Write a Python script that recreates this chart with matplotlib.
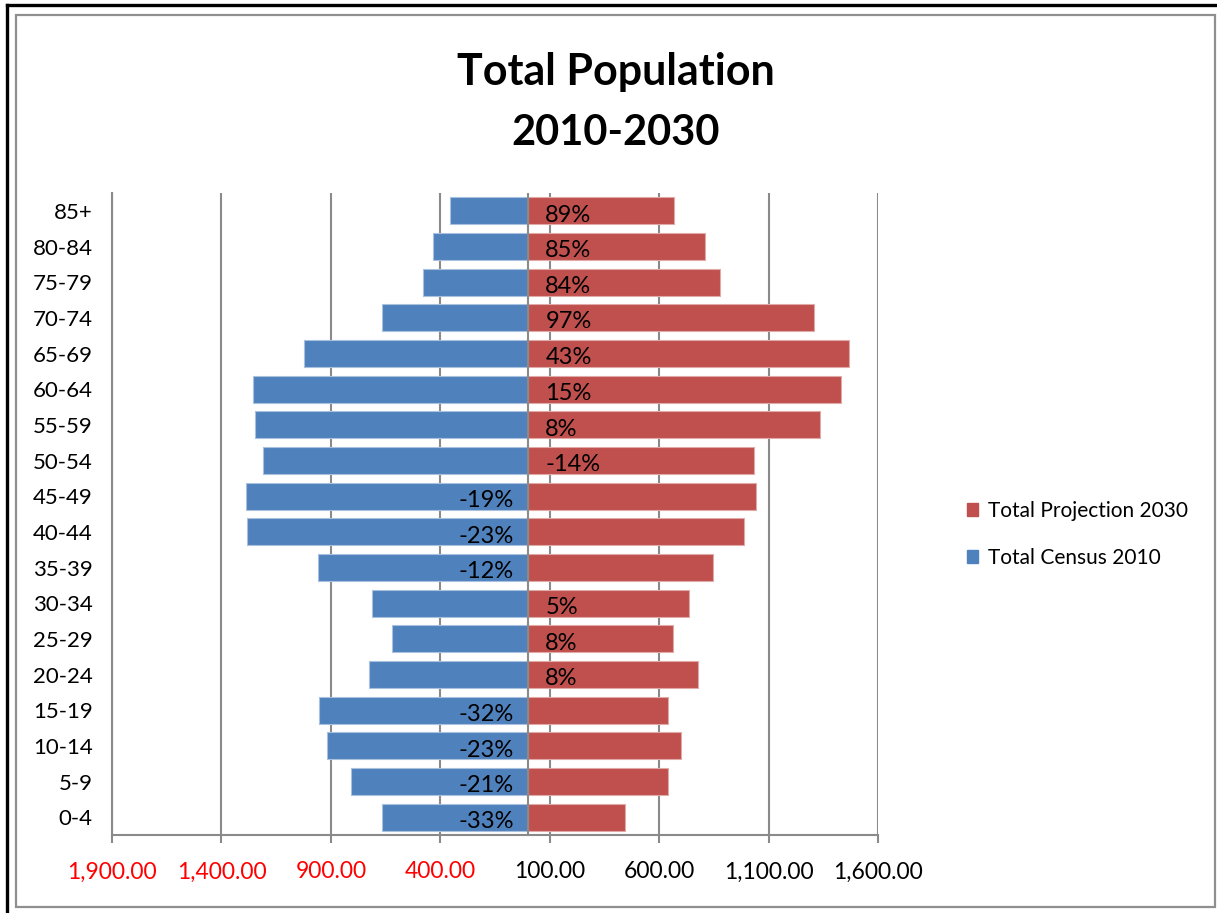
"""Population pyramid: Census 2010 vs Projection 2030 by age group."""
import matplotlib
matplotlib.use('Agg')
import matplotlib.pyplot as plt
from matplotlib.patches import Patch, Rectangle
from matplotlib.lines import Line2D
from matplotlib.ticker import FixedLocator, FixedFormatter

plt.rcParams['font.family'] = ['Lato', 'DejaVu Sans']

# age groups, youngest first (bottom of the pyramid)
AGE_GROUPS = ['0-4', '5-9', '10-14', '15-19', '20-24', '25-29', '30-34',
              '35-39', '40-44', '45-49', '50-54', '55-59', '60-64',
              '65-69', '70-74', '75-79', '80-84', '85+']
CENSUS_2010 = [665, 806, 916, 952, 724, 619, 710, 960, 1281, 1290, 1210,
               1245, 1254, 1021, 665, 477, 432, 354]
PROJECTION_2030 = [442, 639, 701, 639, 779, 665, 738, 844, 988, 1041, 1032,
                   1336, 1432, 1469, 1309, 879, 811, 666]
CHANGE_LABELS = ['-33%', '-21%', '-23%', '-32%', '8%', '8%', '5%', '-12%',
                 '-23%', '-19%', '-14%', '8%', '15%', '43%', '97%', '84%',
                 '85%', '89%']
# which bar the change label sits on: 'L' = census side, 'R' = projection side
LABEL_SIDE = ['L', 'L', 'L', 'L', 'R', 'R', 'R', 'L', 'L', 'L', 'R', 'R',
              'R', 'R', 'R', 'R', 'R', 'R']
XTICKS = [-1900, -1400, -900, -400, 100, 600, 1100, 1600]

BLUE = '#4F81BD'
RED = '#C0504D'
GRID = '#8a8a8a'

W, H = 1217, 913
fig = plt.figure(figsize=(W / 100, H / 100), dpi=100)
ax = fig.add_axes([112 / W, 1 - 835 / H, (878 - 112) / W, (835 - 193) / H])

y = list(range(len(AGE_GROUPS)))
ax.barh(y, [-v for v in CENSUS_2010], height=0.76, color=BLUE,
        edgecolor='#a9c1de', linewidth=0.8, zorder=3)
ax.barh(y, PROJECTION_2030, height=0.76, color=RED,
        edgecolor='#e0aaa8', linewidth=0.8, zorder=3)

for yi, lab, side in zip(y, CHANGE_LABELS, LABEL_SIDE):
    if side == 'R':
        ax.annotate(lab, (0, yi), xytext=(12.6, -3), textcoords='offset points',
                    ha='left', va='center', fontsize=17, zorder=5)
    else:
        ax.annotate(lab, (0, yi), xytext=(-10, -3), textcoords='offset points',
                    ha='right', va='center', fontsize=17, zorder=5)

ax.axvline(0, color=GRID, lw=1.5, zorder=4)

ax.set_xlim(-1900, 1600)
ax.set_ylim(-0.5, len(AGE_GROUPS) - 0.5)
ax.xaxis.set_major_locator(FixedLocator(XTICKS))
ax.xaxis.set_major_formatter(FixedFormatter([f"{abs(v):,.2f}" for v in XTICKS]))
for t, v in zip(ax.get_xticklabels(), XTICKS):
    t.set_color('#ff0000' if v < 0 else 'black')
ax.tick_params(axis='x', length=6, width=1.5, color=GRID, labelsize=16.5, pad=13)
ax.set_yticks(y)
ax.set_yticklabels(AGE_GROUPS)
ax.tick_params(axis='y', length=0, labelsize=16, pad=14)
ax.grid(True, axis='x', color=GRID, lw=1.5, zorder=0)
ax.set_axisbelow(True)
for s in ('top', 'right'):
    ax.spines[s].set_visible(False)
for s in ('left', 'bottom'):
    ax.spines[s].set_color(GRID)
    ax.spines[s].set_linewidth(1.5)

fig.text(616 / W, 1 - 85 / H, 'Total Population', ha='center', va='baseline',
         fontsize=31, fontweight='bold')
fig.text(616 / W, 1 - 145 / H, '2010-2030', ha='center', va='baseline',
         fontsize=30, fontweight='bold')

handles = [Patch(color=RED), Patch(color=BLUE)]
fig.legend(handles, ['Total Projection 2030', 'Total Census 2010'],
           loc='center left', bbox_to_anchor=(967 / W, 1 - 534.5 / H),
           frameon=False, fontsize=15, borderpad=0, borderaxespad=0,
           handlelength=0.55, handleheight=0.55, handletextpad=0.45,
           labelspacing=1.3)

# chart frame and outer border
fig.add_artist(Rectangle((16 / W, 1 - 907 / H), (1215 - 16) / W, (907 - 15) / H,
                         transform=fig.transFigure, fill=False,
                         edgecolor='#8f8f8f', lw=1.6))
fig.add_artist(Line2D([7 / W, 1], [1 - 5 / H, 1 - 5 / H], transform=fig.transFigure,
                      color='black', lw=2.4))
fig.add_artist(Line2D([7 / W, 7 / W], [0, 1 - 5 / H], transform=fig.transFigure,
                      color='black', lw=2.4))

fig.savefig('out.png', dpi=100)
